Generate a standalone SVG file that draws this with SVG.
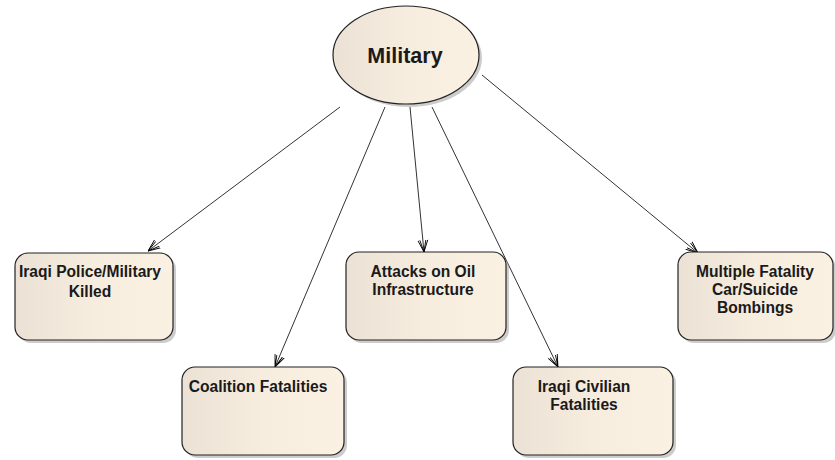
<svg xmlns="http://www.w3.org/2000/svg" width="835" height="460" viewBox="0 0 835 460">
<defs>
<linearGradient id="g" x1="0" y1="0" x2="1" y2="0">
<stop offset="0" stop-color="#ebe1d4"/>
<stop offset="0.5" stop-color="#f7eddf"/>
<stop offset="1" stop-color="#faf1e3"/>
</linearGradient>
<marker id="arr" viewBox="0 0 12 12" refX="12" refY="6" markerWidth="12" markerHeight="12" markerUnits="userSpaceOnUse" orient="auto">
<path d="M0,1 L12,6 L0,11 M0,3 L12,6 M0,9 L12,6" fill="none" stroke="#000" stroke-width="0.9"/>
</marker>
</defs>
<style>
.box{fill:url(#g);stroke:#222;stroke-width:1.2}
.sh{fill:#999;opacity:0.5}
.t{font-family:"Liberation Sans",Arial,sans-serif;font-weight:bold;font-size:15.6px;fill:#1a1a1a;text-anchor:middle}
.c{stroke:#333;stroke-width:1;fill:none;marker-end:url(#arr)}
</style>
<rect width="835" height="460" fill="#fff"/>
<g id="connectors">
<line class="c" x1="340" y1="107" x2="148" y2="251"/>
<line class="c" x1="385" y1="107" x2="275" y2="367"/>
<line class="c" x1="410" y1="107" x2="424" y2="252"/>
<line class="c" x1="432" y1="107" x2="558" y2="367"/>
<line class="c" x1="482" y1="75" x2="698" y2="253"/>
</g>
<g id="military">
<ellipse class="sh" cx="409" cy="58" rx="73" ry="49"/>
<ellipse class="box" cx="406" cy="55" rx="73" ry="49"/>
<text class="t" x="405" y="63" style="font-size:21.5px">Military</text>
</g>
<g id="iraqi-police">
<rect class="sh" x="18" y="256" width="158" height="87" rx="13"/>
<rect class="box" x="15" y="253" width="158" height="87" rx="13"/>
<text class="t" x="90" y="277">Iraqi Police/Military</text>
<text class="t" x="90" y="297">Killed</text>
</g>
<g id="coalition">
<rect class="sh" x="185" y="370" width="162" height="88" rx="13"/>
<rect class="box" x="182" y="367" width="162" height="88" rx="13"/>
<text class="t" x="258" y="392">Coalition Fatalities</text>
</g>
<g id="attacks">
<rect class="sh" x="349" y="255" width="160" height="88" rx="13"/>
<rect class="box" x="346" y="252" width="160" height="88" rx="13"/>
<text class="t" x="423" y="277">Attacks on Oil</text>
<text class="t" x="423" y="295">Infrastructure</text>
</g>
<g id="iraqi-civilian">
<rect class="sh" x="516" y="370" width="160" height="88" rx="13"/>
<rect class="box" x="513" y="367" width="160" height="88" rx="13"/>
<text class="t" x="584" y="392">Iraqi Civilian</text>
<text class="t" x="584" y="410">Fatalities</text>
</g>
<g id="multiple">
<rect class="sh" x="681" y="255" width="155" height="88" rx="13"/>
<rect class="box" x="678" y="252" width="155" height="88" rx="13"/>
<text class="t" x="755" y="277">Multiple Fatality</text>
<text class="t" x="755" y="295">Car/Suicide</text>
<text class="t" x="755" y="313">Bombings</text>
</g>
</svg>
